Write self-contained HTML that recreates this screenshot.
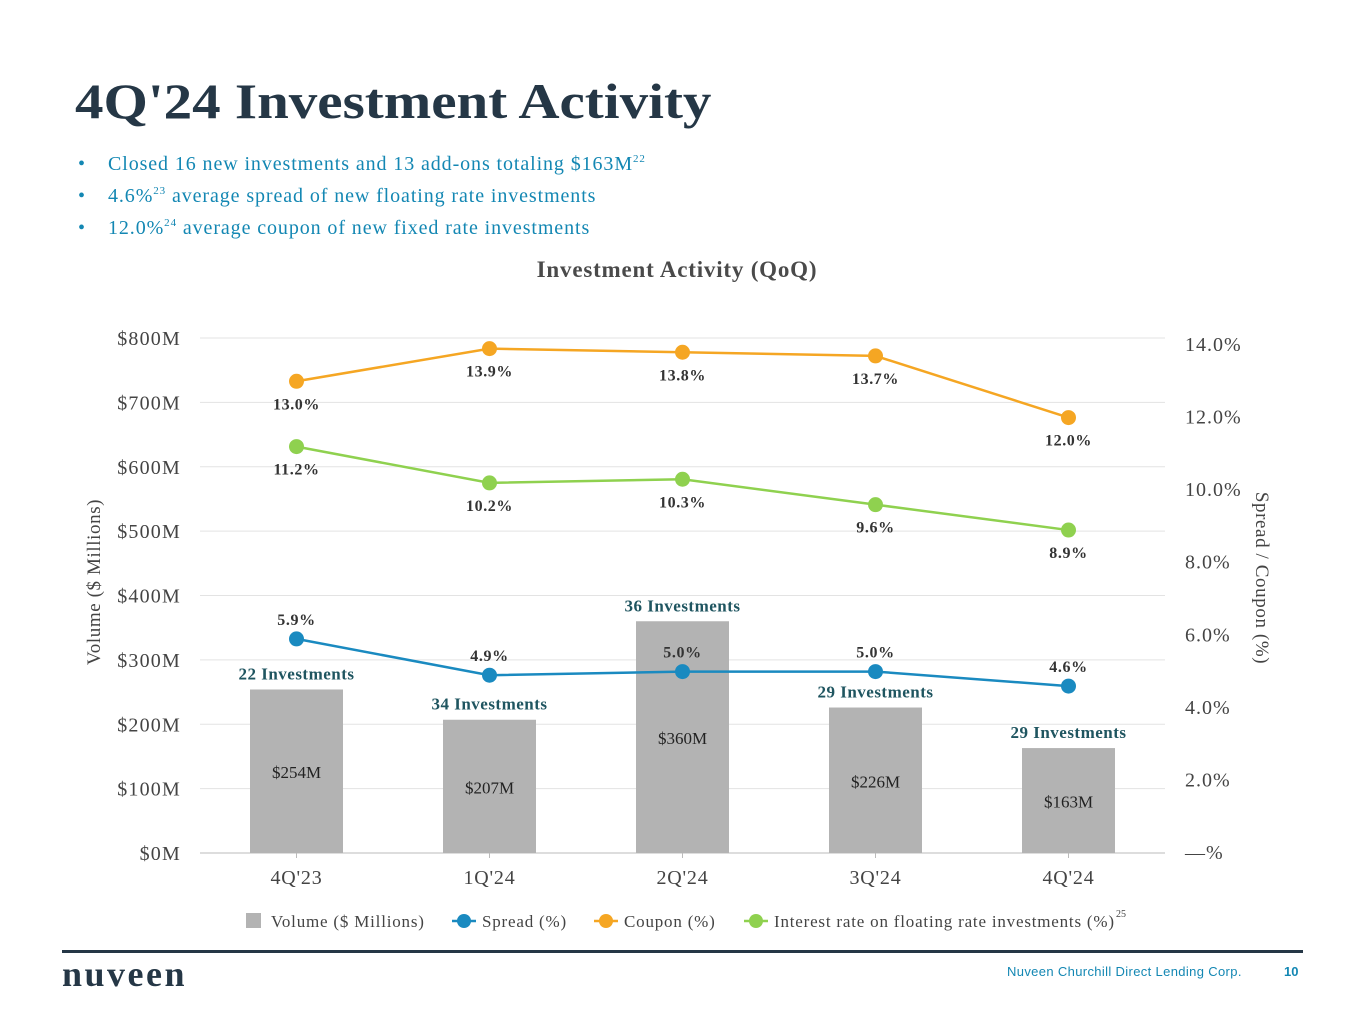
<!DOCTYPE html>
<html><head><meta charset="utf-8">
<style>
body{margin:0;width:1365px;height:1024px;background:#fff;overflow:hidden;font-family:"Liberation Serif",serif;position:relative}
.t{position:absolute;white-space:nowrap}
sup{font-size:11px;line-height:0;vertical-align:8px}
.b{position:absolute;left:78px;white-space:nowrap;font-size:20px;color:#1387b3;line-height:24px;letter-spacing:0.9px}
.b span{position:absolute;left:30px}
</style></head><body>
<div class="t" style="left:75px;top:72px;font-size:50px;font-weight:bold;color:#253746;transform:scaleX(1.14);transform-origin:left top">4Q'24 Investment Activity</div>
<div>
<div class="b" style="top:152px">•<span>Closed 16 new investments and 13 add-ons totaling $163M<sup>22</sup></span></div>
<div class="b" style="top:184px">•<span>4.6%<sup>23</sup> average spread of new floating rate investments</span></div>
<div class="b" style="top:216px">•<span>12.0%<sup>24</sup> average coupon of new fixed rate investments</span></div>
</div>
<svg id="c" width="1365" height="1024" style="position:absolute;left:0;top:0" font-family="Liberation Serif, serif"></svg>
<div style="position:absolute;left:62px;top:950px;width:1241px;height:3px;background:#253746"></div>
<div class="t" style="left:62px;top:953px;font-size:36px;font-weight:bold;color:#253746;letter-spacing:2.5px">nuveen</div>
<div class="t" style="left:1007px;top:964px;font-family:'Liberation Sans',sans-serif;font-size:13px;color:#1387b3;letter-spacing:0.35px">Nuveen Churchill Direct Lending Corp.</div>
<div class="t" style="left:1284px;top:964px;font-family:'Liberation Sans',sans-serif;font-size:13px;font-weight:bold;color:#1387b3">10</div>
<script>
const categories=["4Q'23","1Q'24","2Q'24","3Q'24","4Q'24"];
const volume=[254,207,360,226,163];
const investments=[22,34,36,29,29];
const spread=[5.9,4.9,5.0,5.0,4.6];
const coupon=[13.0,13.9,13.8,13.7,12.0];
const floating=[11.2,10.2,10.3,9.6,8.9];
const leftTicks=[0,100,200,300,400,500,600,700,800];
const rightTicks=[0,2,4,6,8,10,12,14];
const svg=document.getElementById('c');
const NS='http://www.w3.org/2000/svg';
const X0=200,X1=1165,Y0=853;
const yL=v=>Y0-v*(515/800);
const yR=v=>Y0-v*(508/14);
const xC=i=>X0+(i+0.5)*(X1-X0)/categories.length;
function el(tag,a,txt){const e=document.createElementNS(NS,tag);for(const k in a)e.setAttribute(k,a[k]);if(txt!==undefined)e.textContent=txt;svg.appendChild(e);return e;}
let e;
e=el('text',{x:677,y:277,'text-anchor':'middle','font-size':23,'font-weight':'bold',fill:'#4a4a4a','letter-spacing':0.8},'Investment Activity (QoQ)');

leftTicks.forEach(v=>{
 e=el('line',{x1:X0,x2:X1,y1:yL(v),y2:yL(v),stroke:v===0?'#bbb':'#e3e3e3','stroke-width':1});
 
 e=el('text',{x:181,y:yL(v)+7,'text-anchor':'end','font-size':20,fill:'#444','letter-spacing':1.2},'$'+v+'M');
 
});
rightTicks.forEach(v=>{
 e=el('text',{x:1185,y:yR(v)+6,'font-size':20,fill:'#444','letter-spacing':1},v===0?'—%':v.toFixed(1)+'%');
 
});
e=el('text',{transform:'translate(100,582) rotate(-90)','text-anchor':'middle','font-size':19,fill:'#444','letter-spacing':0.6},'Volume ($ Millions)');

e=el('text',{transform:'translate(1256,578) rotate(90)','text-anchor':'middle','font-size':19,fill:'#444','letter-spacing':0.6},'Spread / Coupon (%)');

categories.forEach((c,i)=>{
 const x=xC(i);
 e=el('rect',{x:x-46.5,y:yL(volume[i]),width:93,height:Y0-yL(volume[i]),fill:'#b3b3b3'});
 
 e=el('text',{x:x,y:(yL(volume[i])+Y0)/2+7,'text-anchor':'middle','font-size':17,fill:'#222'},'$'+volume[i]+'M');
 
 e=el('text',{x:x,y:yL(volume[i])-10,'text-anchor':'middle','font-size':17,'font-weight':'bold',fill:'#1f5560','letter-spacing':0.5},investments[i]+' Investments');
 
 e=el('text',{x:x,y:884,'text-anchor':'middle','font-size':20,fill:'#444','letter-spacing':0.8},c);
 
 e=el('line',{x1:x,x2:x,y1:Y0,y2:Y0+5,stroke:'#bbb'});
 
});
function series(vals,color,name,below){
 e=el('polyline',{points:vals.map((v,i)=>xC(i)+','+yR(v)).join(' '),fill:'none',stroke:color,'stroke-width':2.5});
 
 vals.forEach((v,i)=>{
  e=el('circle',{cx:xC(i),cy:yR(v),r:7.5,fill:color});
  
  const off=below[i]?28:-14;
  e=el('text',{x:xC(i),y:yR(v)+off,'text-anchor':'middle','font-size':16,'font-weight':'bold',fill:'#333','letter-spacing':0.6},v.toFixed(1)+'%');
  
 });
}
series(coupon,'#f5a623','coupon',[1,1,1,1,1]);
series(floating,'#8fd14f','floating-rate',[1,1,1,1,1]);
series(spread,'#1a8ac0','spread',[0,0,0,0,0]);
e=el('rect',{x:246,y:913,width:15,height:15,fill:'#b3b3b3'});
e=el('text',{x:271,y:927,'font-size':17,fill:'#444','letter-spacing':0.8},'Volume ($ Millions)');
[[452,'#1a8ac0','Spread (%)','legend-spread'],[594,'#f5a623','Coupon (%)','legend-coupon'],[744,'#8fd14f','Interest rate on floating rate investments (%)','legend-floating']].forEach(l=>{
 e=el('line',{x1:l[0],x2:l[0]+24,y1:921,y2:921,stroke:l[1],'stroke-width':2.5});
 e=el('circle',{cx:l[0]+12,cy:921,r:7,fill:l[1]});
 e=el('text',{x:l[0]+30,y:927,'font-size':17,fill:'#444','letter-spacing':0.8},l[2]);
});
e=el('text',{x:1116,y:917,'font-size':10,fill:'#444'},'25');
</script>
</body></html>
